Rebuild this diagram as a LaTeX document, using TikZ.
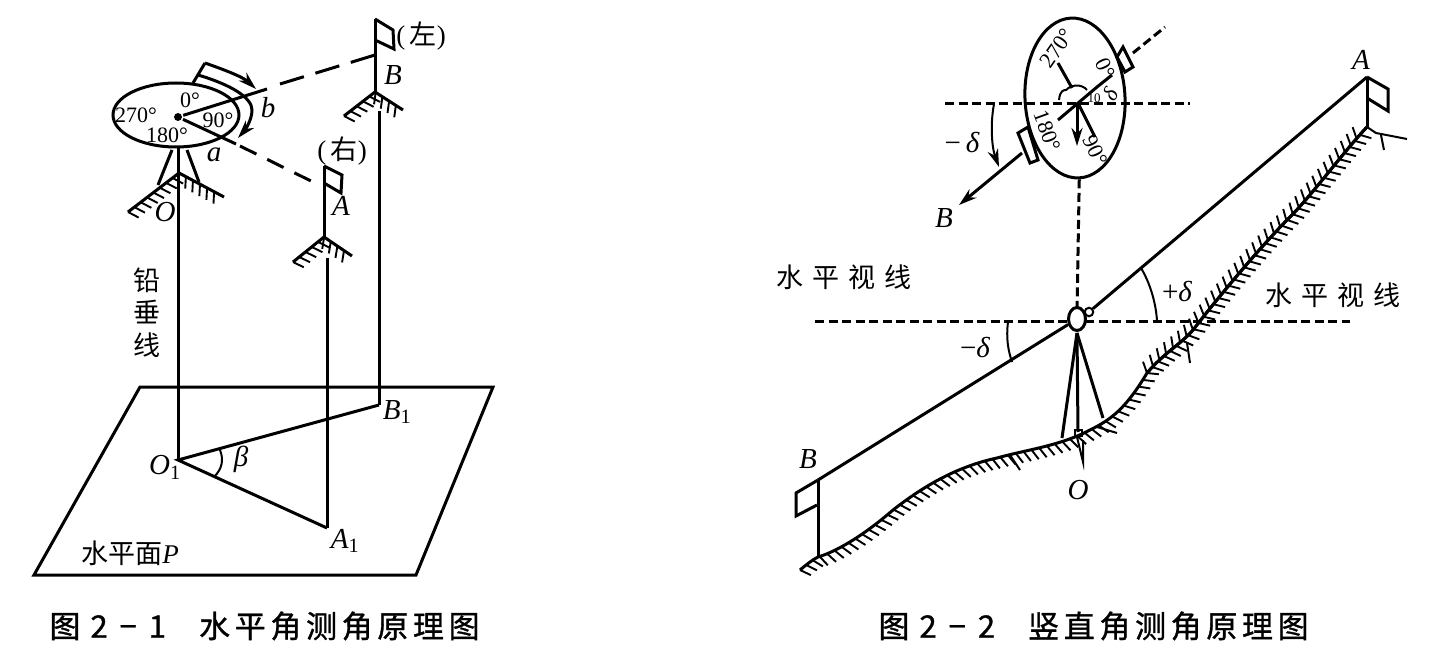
\documentclass[tikz,border=0pt]{standalone}
\usepackage{fontspec}
\setmainfont{Liberation Serif}
\newfontfamily\cjk{Noto Sans CJK SC}
\newfontfamily\capfont[LetterSpace=15,FakeBold=1]{Noto Sans CJK SC}
\usetikzlibrary{calc,positioning,arrows.meta,shapes,decorations.pathreplacing}

\begin{document}
\begin{tikzpicture}[x=1pt,y=-1pt,line width=3pt,
  lbl/.style={inner sep=0pt,font=\fontsize{29}{30}\selectfont\itshape},
  deg/.style={inner sep=0pt,font=\fontsize{22}{22}\selectfont},
  han/.style={inner sep=0pt,font=\fontsize{27}{28}\selectfont\cjk},
  caption/.style={inner sep=0pt,anchor=west,font=\fontsize{31}{32}\selectfont\capfont},
  dsh/.style={dash pattern=on #1 off 12pt},
  fine/.style={dash pattern=on 9pt off 4.5pt},
  tip/.style={-{Stealth[length=18pt,width=11pt]}},
  hatch/.style={postaction={draw,decorate,line width=1.9pt,decoration={border,segment length=8pt,amplitude=12pt,angle=#1}}},
  ele/.style={fill=black,circle,minimum width=.4pt,inner sep=2.8pt}]
  \useasboundingbox (0,0) rectangle (1433,663);

  % figure 2-1
  \coordinate (p1) at (140,387);
  \coordinate (p2) at (493,387);
  \coordinate (p3) at (416,575);
  \coordinate (p4) at (34,575);
  \draw (p1) -- (p2) -- (p3) -- (p4) -- cycle;

  \coordinate (o1) at (178,460);
  \coordinate (a1) at (327,528);
  \coordinate (b1) at (379,405);
  \coordinate (oTop) at (178,148);
  \coordinate (aTop) at (327,258);
  \coordinate (bTop) at (379,111);
  \draw (oTop) -- (o1);
  \draw (aTop) -- (a1);
  \draw (bTop) -- (b1);
  \draw (a1) -- (o1) -- (b1);
  \draw[line width=2pt] (214,477) .. controls (222,469) and (224,460) .. (220,450);

  \node[draw,ellipse,inner sep=0pt,minimum width=126pt,minimum height=64pt] (dial) at (176,115) {};
  \node[ele] (c1) at (178,117) {};
  \coordinate (bEnd) at (267,89);
  \coordinate (aEnd) at (236,144);
  \draw (c1) -- (bEnd);
  \draw (c1) -- (aEnd);

  \coordinate (flagB) at (375,19);
  \coordinate (peakB) at (375,92);
  \coordinate (flagA) at (324,166);
  \coordinate (peakA) at (324,237);
  \draw (flagB) -- (peakB);
  \draw (flagB) -- (393,30) -- (394,49) -- (375,40);
  \draw (flagA) -- (peakA);
  \draw (flagA) -- (342,175) -- (341,193) -- (324,183);
  \coordinate (sightB) at (375,55);
  \coordinate (sightA) at (311,181);
  \draw[dsh=25pt] (280,84) -- (sightB);
  \draw[dsh=18.3pt] (240,146) -- (sightA);

  \draw[hatch=-65] (344,116) -- (peakB) -- (403,110);
  \draw[hatch=-65] (293,262) -- (peakA) -- (352,256);
  \draw[hatch=-65] (128,212) -- (179,173) -- (224,197);
  \draw (172,150) -- (158,185);
  \draw (187,150) -- (199,182);

  \draw (193,83) -- (205,63);
  \draw[tip] (205,63) .. controls (225,70) and (243,77) .. (256,89);
  \draw[tip] (198,75) .. controls (232,85) and (252,98) .. (252,110) .. controls (252,120) and (245,130) .. (238,138);

  \node[deg] (d0) at (190,100) {0°};
  \node[deg] (d270) at (136,115) {270°};
  \node[deg] (d180) at (167,135) {180°};
  \node[deg] (d90) at (218,120) {90°};
  \node[lbl] (lb) at (268,108) {b};
  \node[lbl] (la) at (214,155) {a};
  \node[lbl] (lB) at (393,75) {B};
  \node[lbl] (lA) at (341,206) {A};
  \node[lbl] (lO) at (165,212) {O};
  \node[inner sep=0pt,font=\fontsize{27}{29}\selectfont] (left) at (421,36) {(\,{\cjk 左})};
  \node[inner sep=0pt,font=\fontsize{27}{29}\selectfont] (right) at (342,151) {(\,{\cjk 右})};
  \node[han] (v1) at (147,280) {铅};
  \node[han] (v2) at (147,312) {垂};
  \node[han] (v3) at (147,345) {线};
  \node[lbl] (lB1) at (397,412) {B\textsubscript{\upshape 1}};
  \node[lbl] (lO1) at (165,467) {O\textsubscript{\upshape 1}};
  \node[lbl] (lA1) at (345,541) {A\textsubscript{\upshape 1}};
  \node[lbl] (beta) at (241,459) {β};
  \node[han] (plane) at (130,553) {水平面{\rmfamily\mdseries\itshape P}};
  \node[caption] (cap1) at (48,626) {图\hspace{10pt}2\hspace{12pt}−\hspace{12pt}1\hspace{33pt}水平角测角原理图};

  % figure 2-2
  \node[draw,ellipse,inner sep=0pt,minimum width=100pt,minimum height=160pt,rotate=3] (disc) at (1075,98) {};
  \coordinate (hL) at (945,104);
  \coordinate (hR) at (1190,104);
  \draw[fine] (hL) -- (hR);
  \coordinate (eye) at (1077,319);
  \draw[fine] (disc.south) -- ($(eye)+(0,-8)$);
  \coordinate (viewL) at (815,321);
  \coordinate (viewR) at (1350,321);
  \draw[fine] (viewL) -- (viewR);

  \draw (1058,120) -- (1097,87) -- (1112,75);
  \draw (1058,63) -- (1072,88);
  \draw (1078,103) -- (1095,137);
  \draw[tip] (1077,103) -- (1077,146);
  \draw[line width=2pt] (1059,100) .. controls (1060,90) and (1064,90) .. (1066,90) .. controls (1072,84) and (1082,84) .. (1087,90);
  \draw (1018,133) -- (1028,127) -- (1038,160) -- (1030,163) -- cycle;
  \draw (1117,57) -- (1123,47) -- (1133,67) -- (1125,72) -- cycle;
  \coordinate (far) at (1165,27);
  \draw[fine] (1133,53) -- (far);
  \node[lbl] (lB2) at (944,218) {B};
  \coordinate (tipB) at (959,205);
  \draw[tip] (1022,153) -- (tipB);
  \draw[tip,line width=2pt] (994,104) .. controls (990,125) and (992,148) .. (999,167);

  \node[deg,rotate=55] (r270) at (1057,48) {270°};
  \node[deg,rotate=-65] (r0) at (1105,68) {0°};
  \node[deg,rotate=-70] (r180) at (1047,131) {180°};
  \node[deg,rotate=-65] (r90) at (1095,150) {90°};
  \node[lbl,font=\fontsize{22}{24}\selectfont\itshape,rotate=60] (ds) at (1110,94) {δ};
  \node[deg,font=\fontsize{13}{14}\selectfont] (tiny) at (1094,98) {10};
  \node[lbl] (md1) at (962,143) {\upshape−\,\itshape δ};

  \node[draw,ellipse,inner sep=0pt,minimum width=17pt,minimum height=23pt,fill=white] (scope) at (eye) {};
  \node[draw,circle,inner sep=3pt,line width=2pt] (ocular) at (1089,312) {};
  \coordinate (topA) at (1367,77);
  \coordinate (topB) at (818,480);
  \draw (ocular) -- (topA);
  \draw (scope) -- (topB);

  \coordinate (apex) at (1077,333);
  \coordinate (peg) at (1078,432);
  \draw (apex) -- (1062,438);
  \draw (apex) -- (peg);
  \draw (apex) -- (1103,418);
  \draw[line width=2pt] (1075,430) rectangle (1082,436);
  \draw[line width=2pt] (1077,437) -- (1083,462) -- (1083,440);

  \coordinate (footB) at (818,557);
  \coordinate (footA) at (1367,127);
  \draw (topA) -- (footA);
  \draw (topA) -- (1388,89) -- (1388,111) -- (1367,98);
  \draw (topB) -- (footB);
  \draw (topB) -- (796,493) -- (796,516) -- (817,505);

  \draw[hatch=-65] (800,570) .. controls (806,565) and (812,560) .. (footB) .. controls (835,552) and (862,537) .. (893,510) .. controls (915,493) and (950,468) .. (997,458) .. controls (1025,450) and (1060,446) .. (1090,430) .. controls (1110,420) and (1125,410) .. (1147,373) .. controls (1165,352) and (1180,345) .. (1193,330) .. controls (1220,295) and (1262,245) .. (1290,217) .. controls (1312,195) and (1345,150) .. (footA);
  \draw[postaction={draw,decorate,line width=1.9pt,decoration={border,segment length=9pt,amplitude=12pt,angle=60}}] (1147,373) .. controls (1165,352) and (1180,345) .. (1193,330) .. controls (1220,295) and (1262,245) .. (1290,217) .. controls (1312,195) and (1345,150) .. (footA);
  \draw[line width=2pt] (footA) -- (1376,133) -- (1407,139);
  \draw[line width=2pt] (1381,135) -- (1384,150);
  \draw[line width=2pt] (1097,427) -- (1117,433);
  \draw[line width=2pt] (1187,343) -- (1190,363);
  \draw[line width=2pt] (1010,455) -- (1020,470);

  \draw[line width=2pt] (1157,321) .. controls (1156,303) and (1150,283) .. (1141,268);
  \draw[line width=2pt] (1008,322) .. controls (1006,338) and (1008,350) .. (1012,362);
  \node[lbl] (pd) at (1177,292) {\upshape+\itshape δ};
  \node[lbl] (md2) at (975,348) {\upshape−\itshape δ};
  \node[lbl] (lO2) at (1078,490) {O};
  \node[lbl] (lA2) at (1361,60) {A};
  \node[lbl] (lB3) at (808,459) {B};
  \node[han] (view1) at (844,277) {水\hspace{9pt}平\hspace{9pt}视\hspace{9pt}线};
  \node[han] (view2) at (1333,295) {水\hspace{9pt}平\hspace{9pt}视\hspace{9pt}线};
  \node[caption] (cap2) at (877,626) {图\hspace{10pt}2\hspace{12pt}−\hspace{12pt}2\hspace{33pt}竖直角测角原理图};
\end{tikzpicture}
\end{document}
